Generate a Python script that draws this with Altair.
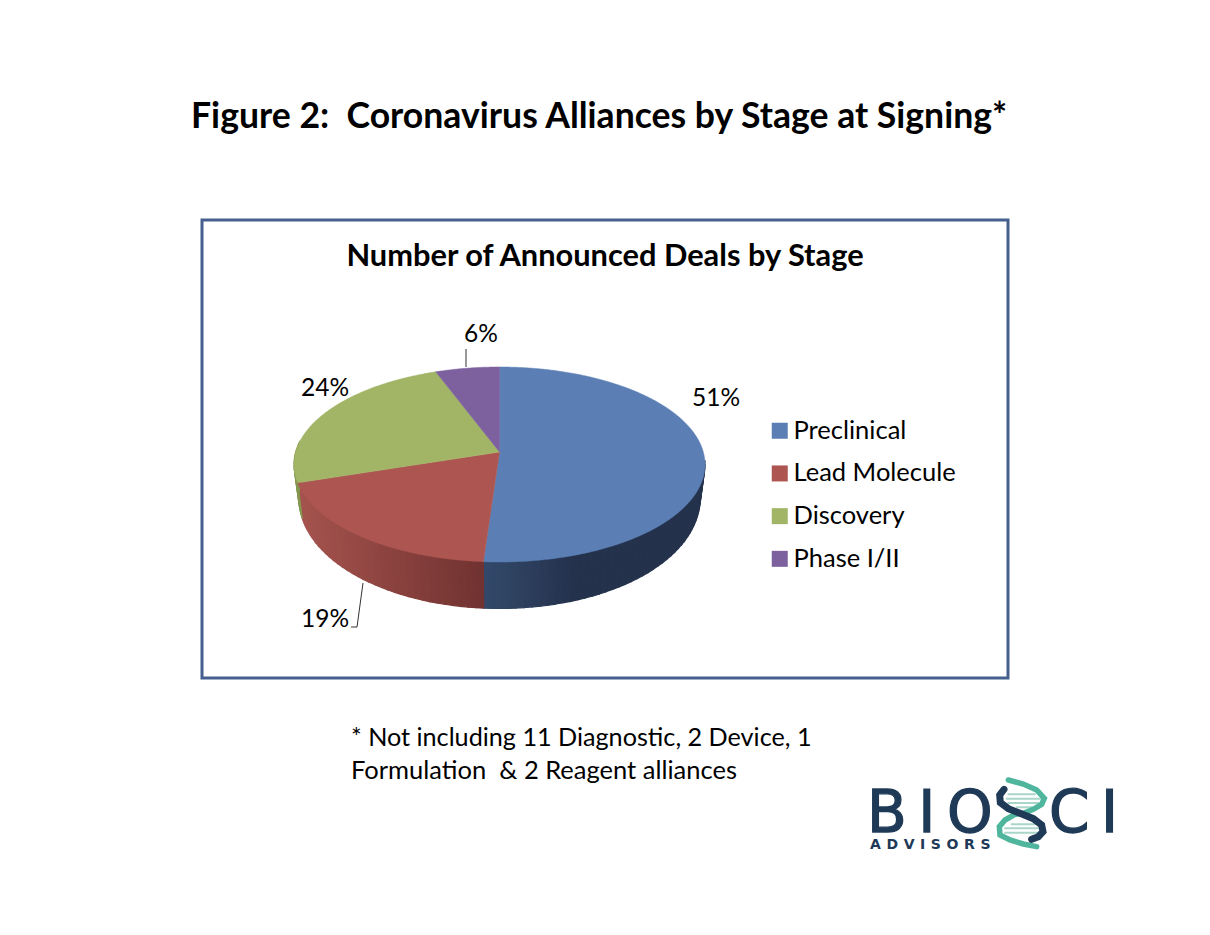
import math
import altair as alt

# ---- data ----
stages = ["Preclinical", "Lead Molecule", "Discovery", "Phase I/II"]
shares = [51.1, 18.9, 24.3, 5.7]
share_labels = ["51%", "19%", "24%", "6%"]
top_colors = ["#5b7fb5", "#ad5550", "#a2b566", "#7d619e"]
wall_near = ["#33496b", "#a5534e", "#85974f", "#5f4a7a"]
wall_far = ["#24324c", "#703230", "#85974f", "#5f4a7a"]

title_text = "Figure 2:\u00a0 Coronavirus Alliances by Stage at Signing*"
inner_title = "Number of Announced Deals by Stage"
foot_lines = ["* Not including 11 Diagnostic, 2 Device, 1", "Formulation\u00a0 & 2 Reagent alliances"]

FONT = "Lato"
OFF = 8  # page margin


def proj(theta):
    """angle (degrees clockwise from the back of the pie) -> screen position of the top rim"""
    k, a, b = 0.128, 203.8, 95.9
    cx, cy = 499.5, 452
    u, v = math.sin(math.radians(theta)), math.cos(math.radians(theta))
    w = 1 + k * v
    return cx + a * u / w - OFF, cy - b * v / w - OFF


def lower(theta):
    x, y = proj(theta)
    v = math.cos(math.radians(theta))
    return 499.5 - OFF + (x - 499.5 + OFF) * 0.977, y + 31.3 - 15.2 * v


def mix(c1, c2, t):
    t = max(0, min(1, t))
    p = [int(c1[i:i + 2], 16) for i in (1, 3, 5)]
    q = [int(c2[i:i + 2], 16) for i in (1, 3, 5)]
    return "#%02x%02x%02x" % tuple(round(a + (b - a) * t) for a, b in zip(p, q))


def poly(pts, **props):
    ring = [list(p) for p in pts] + [list(pts[0])]
    return {"type": "Feature", "geometry": {"type": "Polygon", "coordinates": [ring]}, "properties": props}


def line(pts, **props):
    return {"type": "Feature", "geometry": {"type": "LineString", "coordinates": [list(p) for p in pts]},
            "properties": props}


# sectors and wall strips, derived from the shares
top_features, wall_features = [], []
acc = 0
for stage, share, col, near, far in zip(stages, shares, top_colors, wall_near, wall_far):
    t0, t1 = acc * 3.6, (acc + share) * 3.6
    acc += share
    n = max(2, int((t1 - t0) / 2))
    thetas = [t0 + (t1 - t0) * i / n for i in range(n + 1)]
    fine = [t0 + (t1 - t0) * i / (4 * n) for i in range(4 * n + 1)]
    top_features.append(poly([(499.5 - OFF, 452 - OFF)] + [proj(t) for t in fine], stage=stage))
    for a, b in zip(thetas[:-1], thetas[1:]):
        lo, hi = max(a, 95), min(b, 276)
        if lo >= hi:
            continue
        px = proj((lo + hi) / 2)[0] + OFF
        if stage == "Preclinical":
            fill = mix(near, far, (px - 484) / 90)
        else:
            fill = mix(far, near, (484 - px) / 184)
        wall_features.append(poly([proj(lo), proj(hi), lower(hi), lower(lo)], fill=fill))


def pg(pts):
    return [(x - OFF, y - OFF) for x, y in pts]


def z(pts):  # logo sketch positions
    return [(860 + x / 3 - OFF, 770 + y / 3 - OFF) for x, y in pts]


leaders = [line(pg([(466, 349), (466, 367)])), line(pg([(363, 583), (357, 627), (351, 627)]))]

helix_dark = [(432, 58), (419, 75), (421, 98), (445, 116), (480, 130), (520, 146), (545, 165), (549, 185),
              (535, 200), (515, 208)]
helix_teal_top = [(445, 30), (490, 42), (530, 60), (553, 85), (545, 103), (520, 118), (490, 130), (465, 133)]
helix_teal_bot = [(465, 133), (435, 150), (418, 170), (420, 195), (450, 210), (490, 222), (530, 230)]
rungs = [[(445, 73), (525, 73)], [(440, 86), (540, 86)], [(445, 99), (535, 99)], [(470, 112), (515, 112)],
         [(455, 163), (525, 163)], [(435, 175), (535, 175)], [(435, 188), (540, 188)]]
logo_lines = [line(z(r), col="#a9d6c9", w=2) for r in rungs]
logo_lines += [line(z(helix_teal_top), col="#4fb59c", w=5.5), line(z(helix_teal_bot), col="#4fb59c", w=5.5),
               line(z(helix_dark), col="#1f3a57", w=7)]

proj_spec = alt.Projection(type="identity", scale=1, translate=[0, 0])
one = alt.Data(values=[{"a": 1}])


def text(s, x, y, size, bold=False, color="#000000", align="left", font=FONT, stroke=None):
    kw = {"stroke": stroke, "strokeWidth": 1.3} if stroke else {}
    return alt.Chart(one).mark_text(text=s, font=font, fontSize=size, fontWeight="bold" if bold else "normal",
                                    color=color, align=align, baseline="alphabetic", **kw).encode(
        x=alt.value(x - OFF), y=alt.value(y - OFF))


frame = alt.Chart(one).mark_rect(fill="#ffffff", stroke="#45608f", strokeWidth=3).encode(
    x=alt.value(202 - OFF), x2=alt.value(1008 - OFF), y=alt.value(220 - OFF), y2=alt.value(678 - OFF))

walls = alt.Chart(alt.Data(values=wall_features)).mark_geoshape(strokeWidth=1.2).encode(
    fill=alt.Fill("properties.fill:N", scale=None, legend=None),
    stroke=alt.Stroke("properties.fill:N", scale=None, legend=None)).project(**proj_spec.to_dict())

tops = alt.Chart(alt.Data(values=top_features)).mark_geoshape(strokeWidth=0.5).encode(
    fill=alt.Fill("properties.stage:N",
                  scale=alt.Scale(domain=stages, range=top_colors),
                  legend=alt.Legend(title=None, orient="none", legendX=767 - OFF, legendY=418 - OFF,
                                    symbolType="square", symbolSize=256, symbolStrokeWidth=0,
                                    labelFont=FONT, labelFontSize=25.5, labelColor="#000000", labelLimit=400,
                                    labelOffset=1, rowPadding=15.7, padding=0)),
    stroke=alt.Stroke("properties.stage:N", scale=alt.Scale(domain=stages, range=top_colors), legend=None),
).project(**proj_spec.to_dict())

lead = alt.Chart(alt.Data(values=leaders)).mark_geoshape(filled=False, stroke="#333333", strokeWidth=1).project(
    **proj_spec.to_dict())

logo = alt.Chart(alt.Data(values=logo_lines)).mark_geoshape(filled=False, strokeCap="round").encode(
    stroke=alt.Stroke("properties.col:N", scale=None, legend=None),
    strokeWidth=alt.StrokeWidth("properties.w:Q", scale=None, legend=None),
).project(**proj_spec.to_dict())

layers = [
    frame, walls, tops, lead, logo,
    text(title_text, 191, 128, 35.6, True),
    text(inner_title, 605, 266, 30.8, True, align="center"),
    text(share_labels[0], 692, 406, 24.5),
    text(share_labels[1], 301, 627, 24.5),
    text(share_labels[2], 301, 396, 24.5),
    text(share_labels[3], 464, 342, 24.5),
    text(foot_lines[0], 351, 746, 25.2),
    text(foot_lines[1], 351, 779, 25.5),
    text("B\u2009I\u2009O", 867, 832, 58, color="#1f3a57", font="DejaVu Sans", stroke="#1f3a57"),
    text("C\u2009I", 1049, 832, 58, color="#1f3a57", font="DejaVu Sans", stroke="#1f3a57"),
    text("A\u2009\u2009D\u2009\u2009V\u2009\u2009I\u2009\u2009S\u2009\u2009O\u2009\u2009R\u2009\u2009S", 870, 849, 14, True,
         color="#1f3a57", font="DejaVu Sans"),
]

chart = alt.layer(*layers).resolve_scale(fill="independent", stroke="independent").properties(
    width=1194, height=915, padding=0, autosize=alt.AutoSizeParams(type="none"), background="#ffffff"
).configure_view(stroke=None)

chart.save("out.html", embed_options={"renderer": "svg", "actions": False})
